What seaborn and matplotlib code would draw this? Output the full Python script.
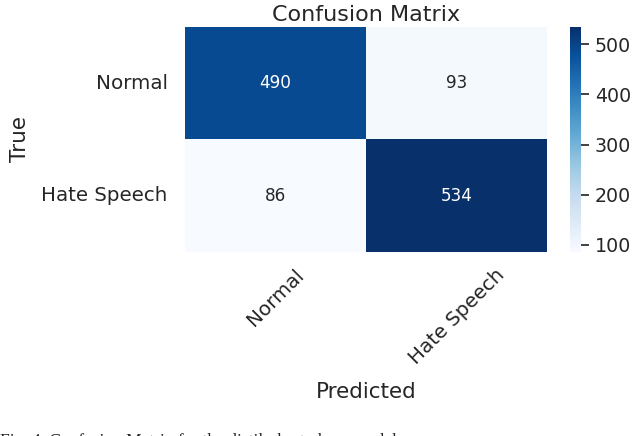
#!/usr/bin/env python3

import numpy as np
import pandas as pd
import matplotlib as mpl

mpl.use("Agg")

import matplotlib.pyplot as plt
import seaborn as sns

# confusion matrix values (rows = true, cols = predicted)
labels = ["Normal", "Hate Speech"]
row_normal = [490, 93]
row_hate = [86, 534]

cm = pd.DataFrame([row_normal, row_hate], index=labels, columns=labels)

sns.set_theme()
plt.rcParams["font.family"] = ["DejaVu Sans"]

fig = plt.figure(figsize=(6.4, 4.36), dpi=100)
ax = fig.add_axes([185 / 640, 1 - 252 / 436, 362 / 640, 225 / 436])
cax = fig.add_axes([570 / 640, 1 - 252 / 436, 11 / 640, 225 / 436])

sns.heatmap(cm, annot=True, fmt="d", cmap="Blues", ax=ax, cbar_ax=cax,
            annot_kws={"size": 12.2})

ax.set_title("Confusion Matrix", fontsize=16, pad=4)
ax.set_xlabel("Predicted", fontsize=15.5, labelpad=10)
ax.set_ylabel("True", fontsize=15.5, labelpad=8)
ax.tick_params(axis="both", labelsize=14.3)
ax.tick_params(axis="y", pad=6.5)
ax.set_xticklabels(ax.get_xticklabels(), rotation=45)
ax.set_yticklabels(ax.get_yticklabels(), rotation=0)

cbar = ax.collections[0].colorbar
cbar.ax.yaxis.set_ticks_position("right")
cbar.ax.yaxis.set_tick_params(which="major", right=True, length=6, width=1.3,
                              color="#333333", direction="out", pad=4,
                              labelsize=13.7)

# figure caption, cut off at the bottom edge
fig.text(0.0, 1 - 433 / 436, "Fig. 4. Confusion Matrix for the distilroberta-base model",
         family="Liberation Serif", fontsize=12.5, color="#222222", va="top", ha="left")

plt.savefig("out.png", dpi=100)
